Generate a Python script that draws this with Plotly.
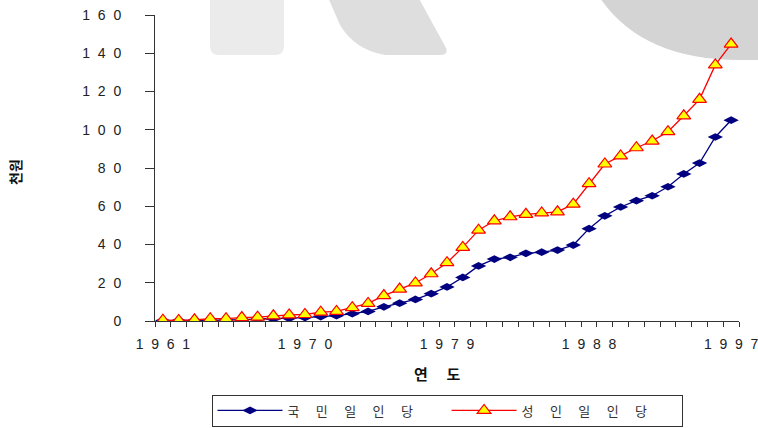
import plotly.graph_objects as go

# 연도별 1인당 금액 (단위: 천원)
years = list(range(1961, 1998))
per_capita = [0.2, 0.2, 0.3, 0.4, 0.5, 0.7, 0.9, 1.1, 1.4, 1.8,
              2.3, 2.8, 3.8, 5.0, 7.4, 9.3, 11.3, 14.3, 17.8, 22.8,
              28.8, 32.4, 33.3, 35.4, 36.0, 37.1, 39.7, 48.3, 55.0, 59.6,
              62.9, 65.5, 70.2, 76.9, 82.6, 96.2, 105.0]
per_adult = [0.4, 0.3, 0.6, 1.2, 1.2, 1.8, 2.0, 2.7, 3.2, 3.4,
             4.6, 5.0, 7.0, 9.2, 13.3, 16.7, 19.9, 24.7, 30.5, 38.5,
             47.5, 52.4, 54.5, 55.8, 56.5, 57.1, 61.1, 71.8, 82.1, 86.3,
             90.6, 94.1, 99.0, 107.3, 115.9, 133.9, 144.8]

x_label_years = [1961, 1970, 1979, 1988, 1997]
y_ticks = [0, 20, 40, 60, 80, 100, 120, 140, 160]

SP = "\u00a0\u00a0"
KSP = "\u2003\u2009\u200a"


def spaced(s, sep=SP):
    return sep.join(str(s))


FONT = "Liberation Sans, Arial, sans-serif"
KFONT = "Noto Sans CJK KR, sans-serif"

fig = go.Figure()
fig.add_trace(go.Scatter(
    x=years, y=per_capita, mode="lines+markers",
    name=spaced("국민일인당", KSP) + "\u2003\u2003\u2009",
    line=dict(color="#000080", width=1.3),
    marker=dict(symbol="diamond-wide", size=11, color="#000080",
                line=dict(width=0)),
))
fig.add_trace(go.Scatter(
    x=years, y=per_adult, mode="lines+markers",
    name=spaced("성인일인당", KSP) + "\u2003\u2003\u2009",
    line=dict(color="#ff0000", width=1.3),
    marker=dict(symbol="triangle-up", size=12, color="#ffff00",
                line=dict(color="#ff0000", width=1.2)),
))

# plot area in page pixels: x 155..739, y 15..321
W, H = 758, 428
L, R, T, B = 155, 739, 15, 321


def px(x):
    return (x - L) / (R - L)


def py(y):
    return (B - y) / (B - T)


def path(points, close=True):
    d = ""
    for i, p in enumerate(points):
        if p[0] == "Q":
            _, cx, cy, ex, ey = p
            d += f"Q{px(cx):.4f},{py(cy):.4f} {px(ex):.4f},{py(ey):.4f} "
        else:
            d += ("M" if i == 0 else "L") + f"{px(p[0]):.4f},{py(p[1]):.4f} "
    return d + ("Z" if close else "")


shapes = [
    # rounded block
    dict(type="path", xref="paper", yref="paper", layer="below",
         path=path([(210, -5), (284, -5), (284, 46), ("Q", 284, 55, 275, 55),
                    (219, 55), ("Q", 210, 55, 210, 46)]),
         fillcolor="#ebebeb", line=dict(width=0)),
    # slanted stroke
    dict(type="path", xref="paper", yref="paper", layer="below",
         path=path([(327, -5), (417, -5), (445, 46), ("Q", 450, 55, 440, 55),
                    (385, 55), ("Q", 355, 50, 340, 25)]),
         fillcolor="#dedede", line=dict(width=0)),
    # round shape at top right
    dict(type="path", xref="paper", yref="paper", layer="below",
         path=path([(598, -5), ("Q", 640, 60, 740, 60), (765, 60), (765, -5)]),
         fillcolor="#d4d4d4", line=dict(width=0)),
]

fig.update_layout(
    width=W, height=H,
    margin=dict(l=L, r=W - R, t=T, b=H - B, autoexpand=False),
    paper_bgcolor="white", plot_bgcolor="rgba(0,0,0,0)",
    font=dict(family=FONT, size=14, color="#222"),
    showlegend=True,
    legend=dict(orientation="h", xref="container", yref="container",
                x=447 / W, xanchor="center", y=1.5 / H,
                yanchor="bottom", bordercolor="#333", borderwidth=1,
                font=dict(family=KFONT, size=13, color="#333"),
                itemwidth=65, tracegroupgap=0, bgcolor="rgba(0,0,0,0)"),
    shapes=shapes,
    annotations=[
        dict(text="<b>연\u2003\u2005도</b>", xref="paper", yref="paper",
             x=px(437), y=py(373), xanchor="center", yanchor="middle",
             showarrow=False,
             font=dict(family=KFONT, size=15, color="#111")),
        dict(text="<b>천원</b>", xref="paper", yref="paper",
             x=px(15), y=py(172), xanchor="center", yanchor="middle",
             showarrow=False, textangle=-90,
             font=dict(family=KFONT, size=14, color="#111")),
    ],
)

fig.update_xaxes(
    range=[1960.5, 1997.5], showgrid=False, zeroline=False,
    showline=True, linecolor="#333", linewidth=1,
    tickmode="array", tickvals=x_label_years,
    ticktext=[spaced(v) for v in x_label_years],
    ticks="outside", ticklen=5, tickcolor="rgba(0,0,0,0)",
    ticklabelstandoff=5, automargin=False, ticklabeloverflow="allow",
    tickfont=dict(family=FONT, size=14, color="#222"),
    minor=dict(tick0=1960.5, dtick=1, ticks="outside", ticklen=5,
               tickcolor="#333", tickwidth=1, showgrid=False),
)
fig.update_yaxes(
    range=[0, 160], showgrid=False, zeroline=False,
    showline=True, linecolor="#333", linewidth=1,
    tickmode="array", tickvals=y_ticks,
    ticktext=[spaced(v) for v in y_ticks],
    ticks="outside", ticklen=9, tickcolor="#333",
    ticklabelstandoff=21, automargin=False,
    tickfont=dict(family=FONT, size=14, color="#222"),
)

fig.write_html("out.html")
